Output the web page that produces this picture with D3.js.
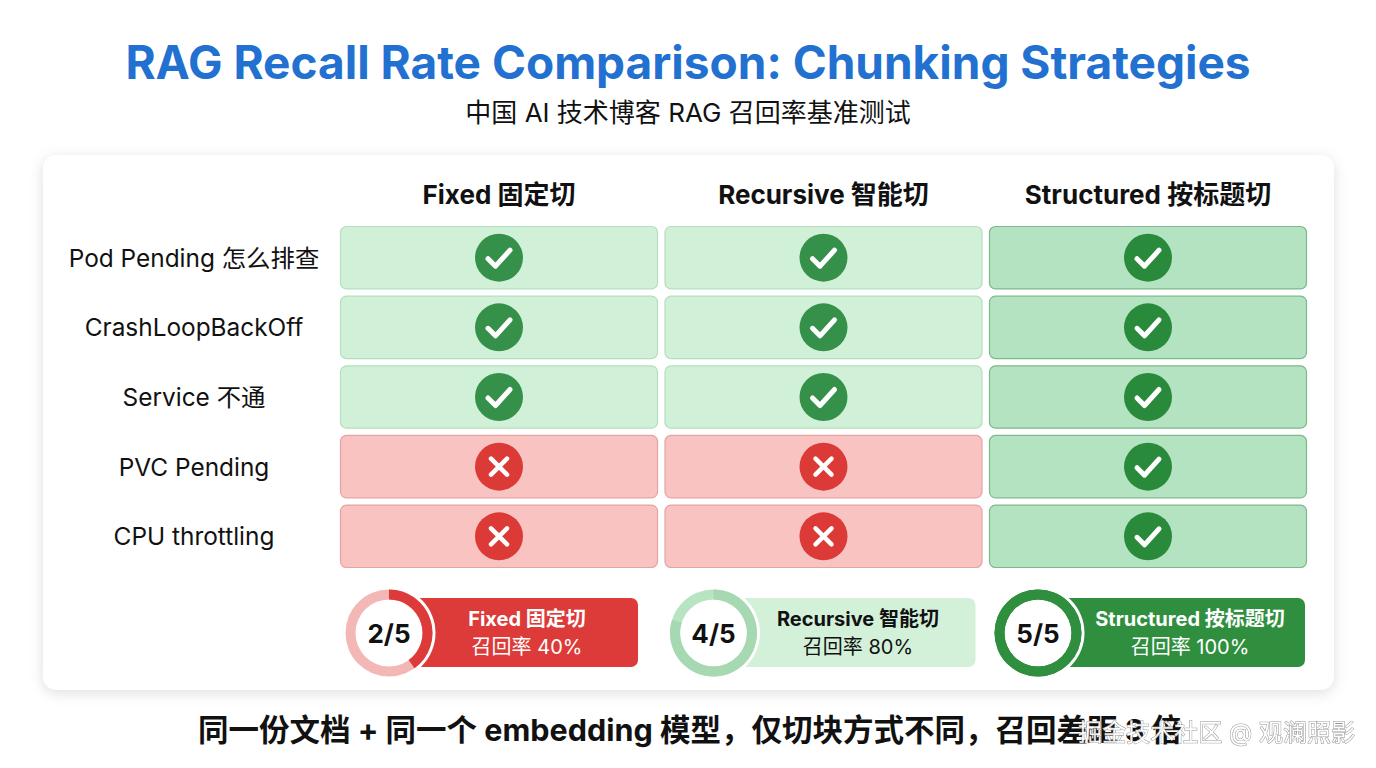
<!DOCTYPE html>
<html>
<head>
<meta charset="utf-8">
<script src="https://cdn.jsdelivr.net/npm/d3@7"></script>
<style>
  html, body { margin: 0; padding: 0; background: #fff; }
  svg { display: block; font-family: Inter, "Noto Sans CJK SC", sans-serif; }
</style>
</head>
<body>
<div id="chart"></div>
<script>
// chart data
const strategies = ['Fixed 固定切', 'Recursive 智能切', 'Structured 按标题切']
const questions = ['Pod Pending 怎么排查', 'CrashLoopBackOff', 'Service 不通', 'PVC Pending', 'CPU throttling']
const fixedHits = [1, 1, 1, 0, 0]
const recursiveHits = [1, 1, 1, 0, 0]
const structuredHits = [1, 1, 1, 1, 1]
const hitsByStrategy = [fixedHits, recursiveHits, structuredHits]
// recall scores as printed in the summary badges
const recallHits = [2, 4, 5]
const recallTotal = 5

const titleText = 'RAG Recall Rate Comparison: Chunking Strategies'
const subtitleText = '中国 AI 技术博客 RAG 召回率基准测试'
const footerText = '同一份文档 + 同一个 embedding 模型，仅切块方式不同，召回差距 3 倍'
const watermarkText = '掘金技术社区 @ 观澜照影'

// layout / style
const W = 1376, H = 768
const badgeWidths = [232, 245, 250]
const badgeTextShift = [5, 5, 10]
const badgeStyle = [
    {fill: '#dc3b39', text: '#fff', track: '#f3b7b5', arc: '#dc3b39'},
    {fill: '#d3f0d9', text: '#111', track: '#b9e4c2', arc: '#a6d9b1'},
    {fill: '#2f8f3f', text: '#fff', track: '#2f8f3f', arc: '#2f8f3f'}
]

const svg = d3.select('#chart')
    .append('svg')
    .attr('width', W)
    .attr('height', H)

const defs = svg.append('defs')
const shadow = defs.append('filter')
    .attr('id', 'cardShadow')
    .attr('x', '-5%').attr('y', '-5%')
    .attr('width', '110%').attr('height', '115%')
shadow.append('feDropShadow')
    .attr('dx', 0).attr('dy', 3)
    .attr('stdDeviation', 7)
    .attr('flood-color', '#000')
    .attr('flood-opacity', 0.13)

// Title block.
svg.append('text')
    .attr('x', W / 2)
    .attr('y', 79)
    .attr('text-anchor', 'middle')
    .attr('font-size', 46)
    .attr('font-weight', 700)
    .attr('fill', '#2271d1')
    .text(titleText)

svg.append('text')
    .attr('x', W / 2)
    .attr('y', 122)
    .attr('text-anchor', 'middle')
    .attr('font-size', 26)
    .attr('fill', '#111')
    .text(subtitleText)

// Card.
svg.append('rect')
    .attr('x', 43).attr('y', 155)
    .attr('width', 1291).attr('height', 535)
    .attr('rx', 14)
    .attr('fill', '#fff')
    .attr('filter', 'url(#cardShadow)')

// Scales.
const x = d3.scaleBand()
    .domain(strategies)
    .range([340, 1307])
    .paddingInner(0.02)

const y = d3.scaleBand()
    .domain(questions)
    .range([226, 568])
    .paddingInner(0.09)

// Column headers.
svg.selectAll('.colHeader')
    .data(strategies)
    .join('text')
    .attr('class', 'colHeader')
    .attr('x', d => x(d) + x.bandwidth() / 2)
    .attr('y', 204)
    .attr('text-anchor', 'middle')
    .attr('font-size', 26)
    .attr('font-weight', 700)
    .attr('fill', '#111')
    .text(d => d)

// Row labels.
svg.selectAll('.rowLabel')
    .data(questions)
    .join('text')
    .attr('class', 'rowLabel')
    .attr('x', 194)
    .attr('y', d => y(d) + y.bandwidth() / 2 + 9)
    .attr('text-anchor', 'middle')
    .attr('font-size', 24.4)
    .attr('fill', '#111')
    .text(d => d)

// Cells.
const cells = []
strategies.forEach((s, si) => {
    questions.forEach((q, qi) => {
        cells.push({strategy: s, si: si, question: q, hit: hitsByStrategy[si][qi]})
    })
})

const cellG = svg.selectAll('.cell')
    .data(cells)
    .join('g')
    .attr('class', 'cell')
    .attr('transform', d => `translate(${x(d.strategy)}, ${y(d.question)})`)

cellG.append('rect')
    .attr('x', 0.5).attr('y', 0.5)
    .attr('width', x.bandwidth() - 1)
    .attr('height', y.bandwidth() - 1)
    .attr('rx', 6)
    .attr('fill', d => !d.hit ? '#f9c3c2' : (d.si === 2 ? '#b3e3c0' : '#d1f0d8'))
    .attr('stroke', d => !d.hit ? '#e6a3a3' : (d.si === 2 ? '#7dba8b' : '#b4dfbf'))
    .attr('stroke-width', 1.2)

const icon = cellG.append('g')
    .attr('transform', `translate(${x.bandwidth() / 2}, ${y.bandwidth() / 2})`)

icon.append('circle')
    .attr('r', 24)
    .attr('fill', d => !d.hit ? '#dc3a36' : (d.si === 2 ? '#2a8a3c' : '#35914a'))

icon.filter(d => d.hit)
    .append('path')
    .attr('d', 'M-11,1 L-3.5,8.5 L11,-7.5')
    .attr('fill', 'none')
    .attr('stroke', '#fff')
    .attr('stroke-width', 5)
    .attr('stroke-linecap', 'round')
    .attr('stroke-linejoin', 'round')

icon.filter(d => !d.hit)
    .append('path')
    .attr('d', 'M-8,-8 L8,8 M8,-8 L-8,8')
    .attr('stroke', '#fff')
    .attr('stroke-width', 4.5)
    .attr('stroke-linecap', 'round')

// Summary badges.
const summary = strategies.map((s, i) => ({strategy: s, i: i, hits: recallHits[i], total: recallTotal}))

const badgeY = 633
const ringR = 38.5
const arc = d3.arc().innerRadius(ringR - 5).outerRadius(ringR + 5)

const badge = svg.selectAll('.badge')
    .data(summary)
    .join('g')
    .attr('class', 'badge')
    .attr('transform', d => `translate(${x(d.strategy) + x.bandwidth() / 2 - 110}, ${badgeY})`)

badge.append('rect')
    .attr('x', 17)
    .attr('y', -35)
    .attr('width', d => badgeWidths[d.i])
    .attr('height', 69)
    .attr('rx', 7)
    .attr('fill', d => badgeStyle[d.i].fill)

badge.append('circle')
    .attr('r', ringR + 8)
    .attr('fill', '#fff')

badge.append('path')
    .attr('d', arc({startAngle: 0, endAngle: 2 * Math.PI}))
    .attr('fill', d => badgeStyle[d.i].track)

badge.append('path')
    .attr('d', d => arc({startAngle: 0, endAngle: 2 * Math.PI * d.hits / d.total}))
    .attr('fill', d => badgeStyle[d.i].arc)

badge.append('text')
    .attr('y', 10)
    .attr('text-anchor', 'middle')
    .attr('font-size', 26)
    .attr('font-weight', 700)
    .attr('fill', '#111')
    .text(d => `${d.hits}/${d.total}`)

badge.append('text')
    .attr('x', d => 17 + badgeWidths[d.i] / 2 + badgeTextShift[d.i])
    .attr('y', -7)
    .attr('text-anchor', 'middle')
    .attr('font-size', 20)
    .attr('font-weight', 700)
    .attr('fill', d => badgeStyle[d.i].text)
    .text(d => d.strategy)

badge.append('text')
    .attr('x', d => 17 + badgeWidths[d.i] / 2 + badgeTextShift[d.i])
    .attr('y', 21)
    .attr('text-anchor', 'middle')
    .attr('font-size', 20)
    .attr('fill', d => badgeStyle[d.i].text)
    .text(d => `召回率 ${Math.round(d.hits / d.total * 100)}%`)

// Footer.
svg.append('text')
    .attr('x', 690)
    .attr('y', 741)
    .attr('text-anchor', 'middle')
    .attr('font-size', 30.5)
    .attr('font-weight', 700)
    .attr('fill', '#111')
    .text(footerText)

// Watermark, drawn over the footer as in the source image.
svg.append('text')
    .attr('x', 1355)
    .attr('y', 741)
    .attr('text-anchor', 'end')
    .attr('font-size', 24)
    .attr('fill', '#fff')
    .attr('stroke', '#888')
    .attr('stroke-width', 1)
    .attr('paint-order', 'stroke')
    .attr('opacity', 0.9)
    .text(watermarkText)
</script>
</body>
</html>
